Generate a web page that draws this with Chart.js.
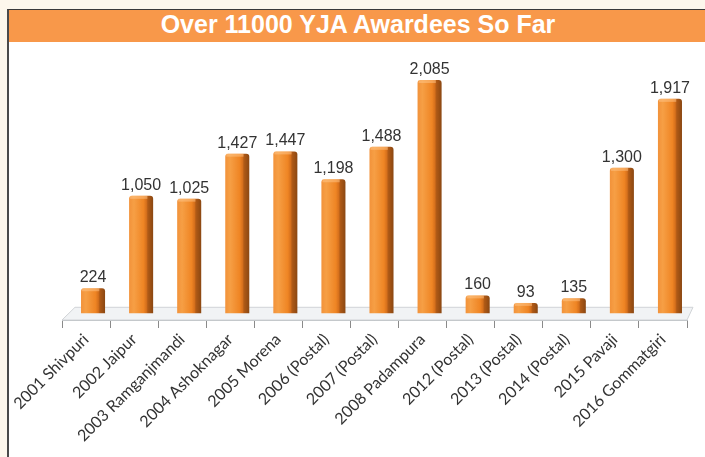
<!DOCTYPE html>
<html>
<head>
<meta charset="utf-8">
<script src="https://cdn.jsdelivr.net/npm/chart.js@4/dist/chart.umd.min.js"></script>
<style>
  html, body { margin: 0; padding: 0; }
  body { width: 705px; height: 457px; background: #fdf7ec; position: relative; overflow: hidden; }
  .frame {
    position: absolute; left: 7px; top: 9px; width: 698px; height: 448px;
    border-top: 1px solid #3a3a3a; border-left: 2px solid #4a4a4a; background: #fff;
  }
  .title {
    height: 32px; line-height: 33px; background: #f8984a; color: #fff; text-align: center;
    font: bold 25px 'Liberation Sans', Arial, sans-serif;
  }
  #awardees { display: block; }
</style>
</head>
<body>
<div class="frame">
  <div class="title">Over 11000 YJA Awardees So Far</div>
  <canvas id="awardees" width="696" height="415"></canvas>
</div>
<script>
const ctxAwardees = document.getElementById('awardees').getContext('2d')

// camps and number of awardees
const labelsAwardees = [
  '2001 Shivpuri', '2002 Jaipur', '2003 Ramganjmandi', '2004 Ashoknagar',
  '2005 Morena', '2006 (Postal)', '2007 (Postal)', '2008 Padampura',
  '2012 (Postal)', '2013 (Postal)', '2014 (Postal)', '2015 Pavaji',
  '2016 Gommatgiri',
]
const valuesAwardees = [224, 1050, 1025, 1427, 1447, 1198, 1488, 2085, 160, 93, 135, 1300, 1917]

const BAR_SHIFT = 7
const BAR_PCT = 0.5

// horizontal shading so the bars look like the 3D columns
const barFill = context => {
  const chart = context.chart
  const xs = chart.scales.x
  if (!xs) return '#f28a28'
  const cx = xs.getPixelForValue(context.dataIndex)
  const half = ((xs.right - xs.left) / labelsAwardees.length) * BAR_PCT / 2
  if (!isFinite(cx) || !isFinite(half) || half <= 0) return '#f28a28'
  const g = chart.ctx.createLinearGradient(cx - half, 0, cx + half, 0)
  g.addColorStop(0, '#f2923a')
  g.addColorStop(0.2, '#f69f45')
  g.addColorStop(0.6, '#ef8524')
  g.addColorStop(0.72, '#d6701c')
  g.addColorStop(0.78, '#b05a16')
  g.addColorStop(1, '#8a4712')
  return g
}

const floorPlugin = {
  id: 'floor',
  beforeDatasetsDraw(chart) {
    const { ctx, chartArea, scales } = chart
    const back = scales.y.getPixelForValue(0) - 6
    const front = chartArea.bottom
    ctx.save()
    ctx.fillStyle = '#f1f3f5'
    ctx.strokeStyle = '#d0d3d6'
    ctx.lineWidth = 1
    ctx.beginPath()
    ctx.moveTo(chartArea.left, front)
    ctx.lineTo(chartArea.left + 13, back)
    ctx.lineTo(chartArea.right + 6, back)
    ctx.lineTo(chartArea.right, front)
    ctx.closePath()
    ctx.fill()
    ctx.stroke()
    ctx.restore()
    ctx.save()
    ctx.translate(BAR_SHIFT, 0)
  },
  afterDatasetsDraw(chart) {
    const { ctx } = chart
    const meta = chart.getDatasetMeta(0)
    meta.data.forEach((bar, i) => {
      // lighter top cap
      ctx.fillStyle = 'rgba(255, 200, 140, 0.5)'
      ctx.fillRect(bar.x - bar.width / 2 + 1, bar.y, bar.width * 0.72, 3)
      ctx.fillStyle = '#333'
      ctx.font = '16px "Liberation Sans", Arial, sans-serif'
      ctx.textAlign = 'center'
      ctx.textBaseline = 'alphabetic'
      ctx.fillText(valuesAwardees[i].toLocaleString('en-US'), bar.x, bar.y - 6)
    })
    ctx.restore()
  },
}

const dataAwardees = {
  labels: labelsAwardees,
  datasets: [
    {
      data: valuesAwardees,
      backgroundColor: barFill,
      borderRadius: { topLeft: 3, topRight: 3 },
      borderSkipped: 'bottom',
      barPercentage: BAR_PCT,
      categoryPercentage: 1,
    },
  ],
}

const configAwardees = {
  type: 'bar',
  data: dataAwardees,
  plugins: [floorPlugin],
  options: {
    responsive: false,
    animation: false,
    layout: { padding: { left: 53, right: 18, top: 14, bottom: 0 } },
    plugins: {
      legend: { display: false },
      title: { display: false },
      tooltip: { enabled: false },
    },
    scales: {
      x: {
        afterFit: scale => {
          scale.height = 137
        },
        border: { display: true, color: '#b8bcc0' },
        grid: {
          offset: true,
          drawOnChartArea: false,
          drawTicks: true,
          tickLength: 8,
          color: '#8a8a8a',
        },
        ticks: {
          minRotation: 45,
          maxRotation: 45,
          padding: 2,
          color: '#333',
          font: { family: 'Lato, sans-serif', size: 16 },
        },
      },
      y: {
        display: false,
        min: -60,
        max: 2300,
      },
    },
  },
}
const AwardeesChart = new Chart(ctxAwardees, configAwardees)
</script>
</body>
</html>
